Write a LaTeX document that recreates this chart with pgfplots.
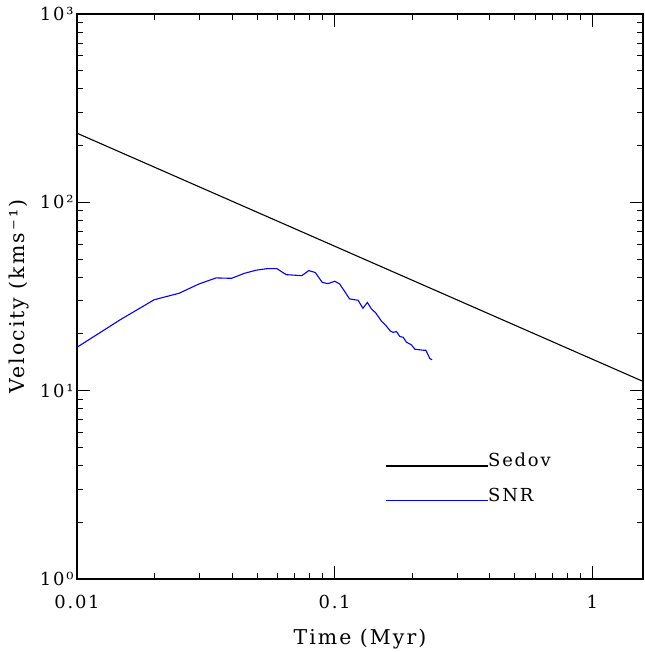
\documentclass[border=0pt]{standalone}
\usepackage{fontspec}
\setmainfont{DejaVu Serif}[LetterSpace=10]
\usepackage{pgfplots}
\pgfplotsset{compat=1.18}
\begin{document}
\begin{tikzpicture}
\begin{loglogaxis}[
  scale only axis,
  width=566bp, height=565bp,
  xmin=0.01, xmax=1.574, ymin=1, ymax=1000,
  axis line style={line width=1.4bp},
  tick style={black, line width=1bp},
  major tick length=13bp, minor tick length=6.5bp,
  xtick={0.01,0.1,1}, xticklabels={0.01,0.1,1},
  ytick={1,10,100,1000}, yticklabels={10⁰,10¹,10²,10³},
  /pgf/number format/assume math mode=true,
  ticklabel style={font=\fontsize{18}{20}\selectfont},
  xticklabel style={yshift=-13bp},
  label style={font=\fontsize{20.5}{22}\selectfont},
  xlabel={Time (Myr)}, ylabel={Velocity (kms⁻¹)},
  xlabel style={yshift=-13bp},
  ylabel style={yshift=4bp},
  clip=false,
]
\addplot[black, line width=1.1bp]
  coordinates {(0.01,232.8) (0.1,58.5) (1,14.7) (1.574,11.2)};
\addplot[blue, line width=1.1bp]
  coordinates {
(0.01,17.0) (0.01479,23.9) (0.01994,30.4) (0.0249,32.9) (0.0298,36.9)
(0.0347,39.7) (0.0398,39.5) (0.0447,42.0) (0.0495,43.6) (0.0550,44.5)
(0.0596,44.5) (0.0649,41.3) (0.0746,40.8) (0.0794,43.4) (0.0841,42.4)
(0.0895,37.6) (0.0942,37.0) (0.1,38.1) (0.1046,36.9) (0.1143,30.7)
(0.1233,30.2) (0.1288,27.4) (0.1340,29.4) (0.1389,27.2) (0.1443,25.9)
(0.152,23.4) (0.158,22.2) (0.1647,20.7) (0.1686,20.4) (0.1738,20.6)
(0.179,19.4) (0.1845,19.2) (0.190,18.1) (0.1988,17.5) (0.2048,16.6)
(0.2207,16.4) (0.226,16.4) (0.2343,14.8) (0.239,14.6)};
\node[anchor=base west, inner sep=0pt, font=\fontsize{18}{20}\selectfont]
  at (rel axis cs:0.546,0.199) {\textcolor{black}{\rule[0bp]{102bp}{1.1bp}}Sedov};
\node[anchor=base west, inner sep=0pt, font=\fontsize{18}{20}\selectfont]
  at (rel axis cs:0.546,0.138) {\textcolor{blue}{\rule[0bp]{102bp}{1.1bp}}SNR};
\end{loglogaxis}
\pgfresetboundingbox
\path ([shift={(-77bp,-73bp)}]current axis.south west) rectangle ([shift={(1bp,14bp)}]current axis.north east);
\end{tikzpicture}
\end{document}
